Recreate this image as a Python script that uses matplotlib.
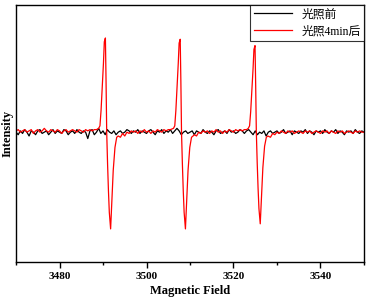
import numpy as np
import matplotlib.pyplot as plt

plt.rcParams['font.family'] = ['Liberation Serif', 'Noto Sans CJK SC', 'DejaVu Sans']

# 光照前 (black), sampled every 0.5 G
black_field = np.arange(3470, 3550.5, 0.5)
black_int = [
    0.00, -0.02, 0.01, -0.01, 0.02, 0.00, -0.03, 0.01, 0.00, -0.02,
    0.01, 0.02, -0.01, 0.00, 0.01, -0.02, 0.00, 0.02, -0.01, 0.01,
    0.00, -0.01, 0.02, 0.01, -0.02, 0.00, 0.01, -0.01, 0.02, 0.00,
    -0.01, 0.01, 0.00, -0.05, 0.01, 0.02, -0.02, 0.00, 0.03, -0.01,
    0.01, -0.02, 0.02, 0.00, -0.01, 0.01, -0.02, 0.00, 0.01, -0.01,
    0.00, 0.02, 0.01, -0.01, 0.01, 0.00, 0.02, -0.01, 0.01, 0.00,
    -0.01, 0.01, 0.02, 0.00, -0.02, 0.01, 0.00, 0.02, -0.01, 0.01,
    0.00, 0.02, -0.01, 0.01, 0.03, 0.01, -0.02, 0.00, 0.01, -0.01,
    0.00, 0.01, -0.02, 0.01, 0.00, -0.01, 0.02, 0.00, -0.01, 0.01,
    0.00, -0.02, 0.01, 0.02, -0.01, 0.00, 0.01, -0.01, 0.02, 0.00,
    0.01, -0.01, 0.00, 0.02, 0.01, -0.01, 0.01, 0.02, 0.00, -0.02,
    0.01, -0.02, 0.00, -0.01, 0.01, -0.03, 0.00, 0.01, -0.01, 0.00,
    0.01, -0.01, 0.00, 0.02, -0.01, 0.00, 0.01, -0.02, 0.01, 0.00,
    -0.01, 0.01, 0.00, 0.02, -0.01, 0.01, 0.00, -0.02, 0.01, 0.00,
    0.01, -0.01, 0.02, 0.00, -0.01, 0.01, 0.00, 0.02, -0.01, 0.01,
    0.00, -0.02, 0.01, 0.00, 0.01, -0.01, 0.02, 0.00, -0.01, 0.01,
    0.00,
]

# 光照4min后 (red)
red_field = [
    3470, 3470.5, 3471, 3471.5, 3472, 3472.5, 3473, 3473.5, 3474, 3474.5,
    3475, 3475.5, 3476, 3476.5, 3477, 3477.5, 3478, 3478.5, 3479, 3479.5,
    3480, 3480.5, 3481, 3481.5, 3482, 3482.5, 3483, 3483.5, 3484, 3484.5,
    3485, 3485.5, 3486, 3486.5, 3487, 3487.5, 3488, 3488.5,
    # line 1
    3489.0, 3489.3, 3489.55, 3489.85, 3490.1, 3490.3, 3490.55, 3490.7, 3490.85,
    3491.05, 3491.25, 3491.45, 3491.75, 3492.0, 3492.35, 3492.75, 3493.15, 3493.5,
    3494, 3494.5, 3495, 3495.5, 3496, 3496.5, 3497, 3497.5, 3498, 3498.5,
    3499, 3499.5, 3500, 3500.5, 3501, 3501.5, 3502, 3502.5, 3503, 3503.5,
    3504, 3504.5, 3505, 3505.5,
    # line 2
    3506.2, 3506.5, 3506.75, 3507.05, 3507.3, 3507.5, 3507.75, 3507.9, 3508.05,
    3508.25, 3508.45, 3508.65, 3508.95, 3509.2, 3509.55, 3509.95, 3510.35, 3510.7,
    3511, 3511.5, 3512, 3512.5, 3513, 3513.5, 3514, 3514.5, 3515, 3515.5,
    3516, 3516.5, 3517, 3517.5, 3518, 3518.5, 3519, 3519.5, 3520, 3520.5,
    3521, 3521.5, 3522, 3522.5, 3523,
    # line 3
    3523.4, 3523.7, 3523.95, 3524.25, 3524.5, 3524.7, 3524.95, 3525.1, 3525.25,
    3525.45, 3525.65, 3525.85, 3526.15, 3526.4, 3526.75, 3527.15, 3527.55, 3527.9,
    3528.5, 3529, 3529.5, 3530, 3530.5, 3531, 3531.5, 3532, 3532.5, 3533,
    3533.5, 3534, 3534.5, 3535, 3535.5, 3536, 3536.5, 3537, 3537.5, 3538,
    3538.5, 3539, 3539.5, 3540, 3540.5, 3541, 3541.5, 3542, 3542.5, 3543,
    3543.5, 3544, 3544.5, 3545, 3545.5, 3546, 3546.5, 3547, 3547.5, 3548,
    3548.5, 3549, 3549.5, 3550,
]
red_int = [
    0.01, 0.02, 0.00, 0.01, 0.02, 0.00, 0.01, 0.02, -0.01, 0.01,
    0.02, 0.00, 0.01, 0.03, 0.01, 0.00, 0.02, 0.01, 0.00, 0.02,
    0.01, -0.01, 0.01, 0.02, 0.00, 0.01, 0.02, 0.01, 0.00, 0.02,
    0.01, 0.00, 0.02, 0.01, 0.02, 0.01, 0.02, 0.02,
    # line 1
    0.03, 0.05, 0.17, 0.37, 0.54, 0.71, 0.74, 0.40, 0.00,
    -0.25, -0.46, -0.63, -0.76, -0.57, -0.30, -0.12, -0.04, -0.03,
    -0.04, -0.01, -0.03, 0.00, -0.01, 0.01, 0.00, 0.01, -0.01, 0.01,
    0.00, 0.02, 0.00, 0.01, -0.01, 0.01, 0.00, 0.02, 0.01, 0.00,
    0.02, 0.01, 0.02, 0.02,
    # line 2
    0.03, 0.05, 0.17, 0.37, 0.54, 0.70, 0.73, 0.40, 0.00,
    -0.25, -0.46, -0.63, -0.76, -0.57, -0.30, -0.12, -0.04, -0.03,
    -0.02, -0.03, 0.00, -0.01, 0.01, 0.00, 0.01, -0.01, 0.01, 0.00,
    0.02, 0.00, 0.01, -0.01, 0.01, 0.00, 0.02, 0.01, 0.00, 0.02,
    0.01, 0.02, 0.01, 0.02, 0.02,
    # line 3
    0.03, 0.05, 0.16, 0.34, 0.50, 0.65, 0.68, 0.37, 0.00,
    -0.24, -0.44, -0.60, -0.72, -0.54, -0.28, -0.11, -0.04, -0.03,
    -0.04, -0.01, -0.02, 0.00, -0.01, 0.01, 0.00, -0.01, 0.01, 0.00,
    0.01, -0.01, 0.00, 0.01, 0.00, -0.01, 0.01, 0.00, 0.01, -0.01,
    0.00, 0.01, 0.00, -0.01, 0.01, 0.00, 0.01, -0.01, 0.01, 0.00,
    -0.01, 0.01, 0.00, 0.01, -0.01, 0.00, 0.01, 0.00, -0.01, 0.01,
    0.00, 0.01, 0.00, 0.00,
]

fig = plt.figure(figsize=(3.69, 3.05), dpi=100)
ax = fig.add_axes([0.0434, 0.141, 0.943, 0.843])

ax.plot(black_field, black_int, color='black', lw=0.9, label='光照前')
ax.plot(red_field, red_int, color='red', lw=0.9, label='光照4min后')

ax.set_xlim(3470, 3550)
ax.set_ylim(-1.02, 1.0)
ax.set_xticks([3480, 3500, 3520, 3540])
ax.set_xticks(np.arange(3470, 3551, 10), minor=True)
ax.set_yticks([])
ax.tick_params(axis='x', which='major', direction='out', length=4, width=1, labelsize=8, pad=3)
ax.tick_params(axis='x', which='minor', direction='out', length=2.5, width=1)
for lab in ax.get_xticklabels():
    lab.set_fontweight('bold')
for sp in ax.spines.values():
    sp.set_linewidth(1)

ax.set_xlabel('Magnetic Field', fontsize=9, fontweight='bold', labelpad=3)
ax.set_ylabel('Intensity', fontsize=9, fontweight='bold', labelpad=2)

leg = ax.legend(loc='upper right', fontsize=8.5, frameon=True, fancybox=False,
                borderaxespad=0, handlelength=3.2, handletextpad=0.8,
                borderpad=0.3, labelspacing=0.4)
leg.get_frame().set_edgecolor('black')
leg.get_frame().set_linewidth(0.8)

fig.savefig('out.png', dpi=100)
